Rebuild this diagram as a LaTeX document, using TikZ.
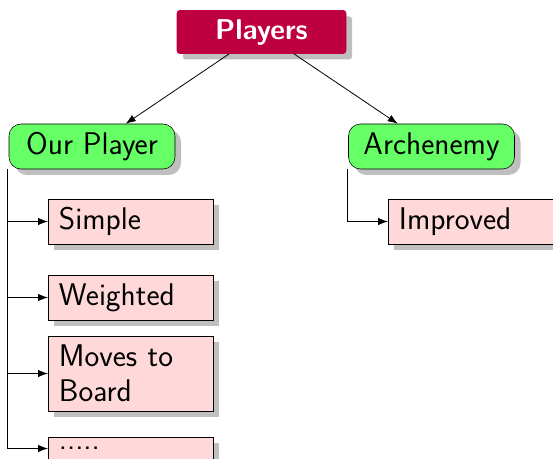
\documentclass[tikz,border=0pt]{standalone}
\usetikzlibrary{shadows,arrows.meta}
\definecolor{plum}{RGB}{191,0,64}
\definecolor{mint}{RGB}{102,255,102}
\definecolor{blush}{RGB}{255,217,217}

\begin{document}
\begin{tikzpicture}[x=0.75pt,y=0.75pt,yscale=-1,xscale=1,
  every node/.style={font=\sffamily\fontsize{23.5}{26}\selectfont},
  link/.style={line width=0.6pt,-{Latex[length=7.5pt,width=5.5pt]}},
  shade/.style={drop shadow={shadow xshift=4.5pt,shadow yshift=-4.5pt,fill=black!25,opacity=1}},
  root/.style={draw=plum,fill=plum,text=white,rounded corners=2pt,minimum width=126.75pt,minimum height=32.25pt,font=\sffamily\bfseries\fontsize{21.5}{25.5}\selectfont,shade},
  player/.style={draw,fill=mint,rounded corners=9pt,minimum width=124.5pt,minimum height=33.75pt,shade},
  leaf/.style={draw,fill=blush,align=left,text width=107.75pt,inner xsep=8pt,minimum height=33.75pt,anchor=west,shade}]
%uncomment if require: \path (0,459);
\clip (0,0) rectangle (553,459);
\useasboundingbox (0,0) rectangle (553,459);

% Top
\node[root] (players) at (261.5,32) {Players};
% Players
\node[player] (our) at (92,146.5) {Our Player};
\node[player] (arch) at (431.5,146.5) {Archenemy};
% Our player types
\node[leaf] (simple) at (48,221.5) {Simple};
\node[leaf] (weighted) at (48,297.5) {Weighted};
\node[leaf,minimum height=56.25pt] (moves) at (48,373.5) {Moves to Board};
\node[leaf,minimum height=17.25pt,inner ysep=0pt] (more) at (48,448.5) {.....};
% Archenemy types
\node[leaf] (improved) at (388,221.5) {Improved};

\draw[link] (players) -- (our);
\draw[link] (players) -- (arch);
\draw[link] ([xshift=-1pt]our.south west) |- (simple.west);
\draw[link] ([xshift=-1pt]our.south west) |- (weighted.west);
\draw[link] ([xshift=-1pt]our.south west) |- (moves.west);
\draw[link] ([xshift=-1pt]our.south west) |- (more.west);
\draw[link] ([xshift=-1pt]arch.south west) |- (improved.west);

\end{tikzpicture}
\end{document}
